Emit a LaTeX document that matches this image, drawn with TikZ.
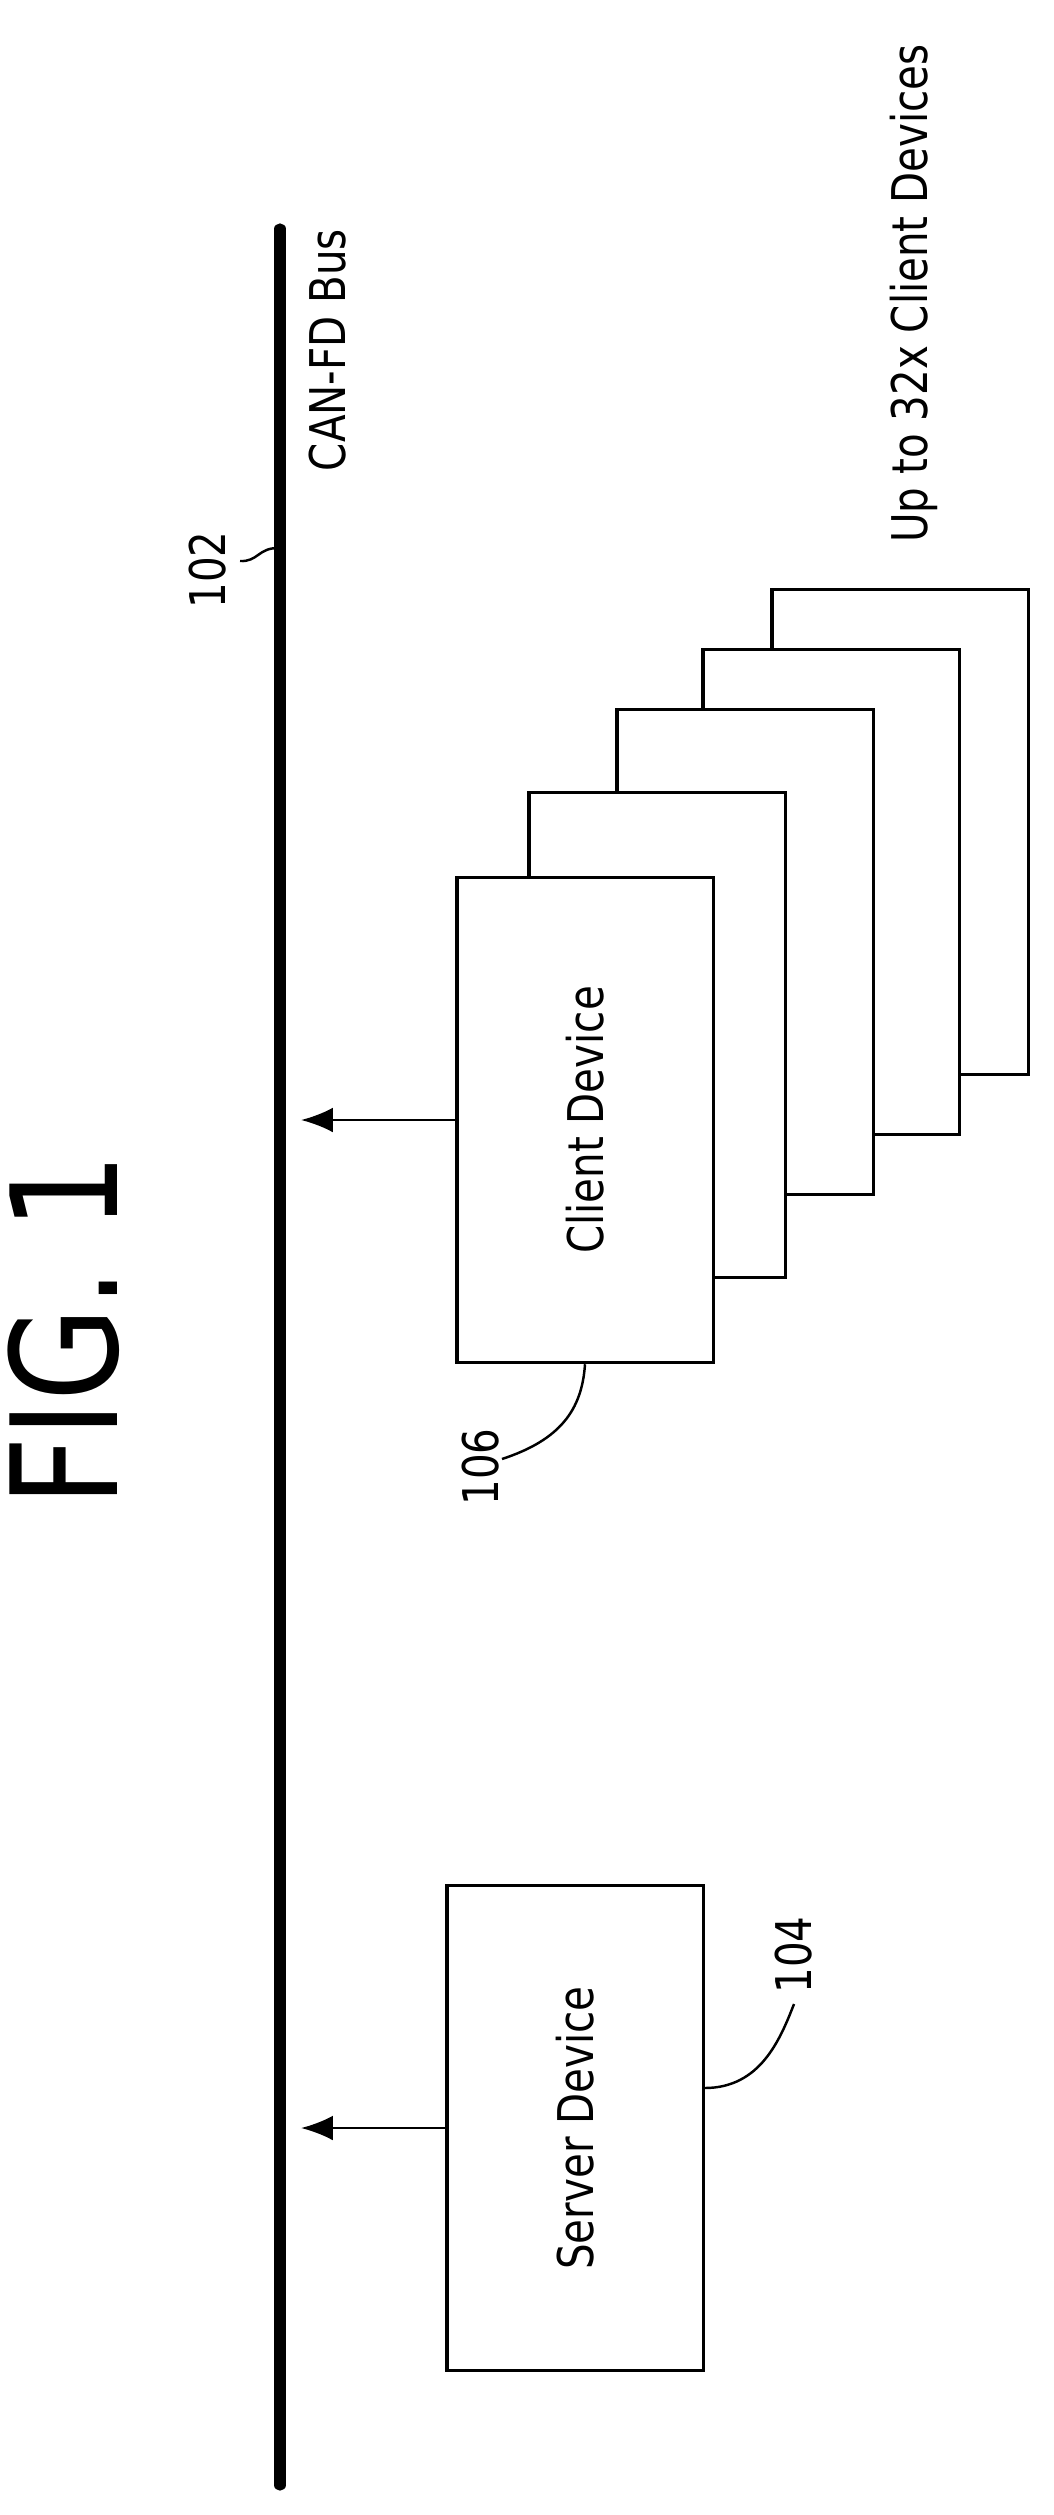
\documentclass[tikz,border=0pt]{standalone}
\usepackage{fontspec}
\setmainfont{DejaVu Sans}[FakeStretch=0.82]
\usetikzlibrary{positioning}
\tikzset{
  % device boxes, stacked copies drawn behind
  device/.style={draw,fill=white,line width=0.9pt,minimum width=2.56cm,minimum height=4.85cm},
  devtext/.style={rotate=90,font=\fontsize{14}{16}\selectfont},
  reflabel/.style={rotate=90,font=\fontsize{14}{16}\selectfont},
  lead/.style={line width=0.7pt},
  busline/.style={line width=3.2pt,line cap=round},
  feed/.style={-{Latex[length=9pt,width=7pt]},line width=0.7pt},
}
\usetikzlibrary{arrows.meta}
\begin{document}
\begin{tikzpicture}[x=0.01cm,y=-0.01cm]
  \useasboundingbox (0,0) rectangle (1053,2515);
  \node[rotate=90,font=\fontsize{42}{46}\selectfont] (fig) at (64,1330) {FIG. 1};
  % the bus
  \coordinate (bustop) at (280,229);
  \coordinate (busbot) at (280,2485);
  \draw[busline] (bustop) -- (busbot);
  \node[reflabel] (busname) at (328,350) {CAN-FD Bus};
  \node[reflabel] (n102) at (208,570) {102};
  \draw[lead] (240,561) .. controls (258,562) and (258,548) .. (278,548);
  % client stack
  \foreach \cx/\cy [count=\i] in {900/832,831/892,745/952,657/1035}
    \node[device] (back\i) at (\cx,\cy) {};
  \node[device] (client) at (585,1120) {};
  \node[devtext] at (client) {Client Device};
  \node[reflabel,anchor=west] (upto) at (914,555) {Up to 32x Client Devices};
  \coordinate (cbus) at (client.west -| bustop);
  \draw[feed] (client.west) -- ([xshift=6]cbus);
  \node[reflabel] (n106) at (481,1467) {106};
  \draw[lead] (502,1459) .. controls (560,1440) and (582,1410) .. (client.south);
  % server
  \node[device] (server) at (575,2128) {};
  \node[devtext] at (server) {Server Device};
  \coordinate (sbus) at (server.west -| bustop);
  \draw[feed] (server.west) -- ([xshift=6]sbus);
  \node[reflabel] (n104) at (794,1955) {104};
  \draw[lead] (server.east |- 0,2088) .. controls (760,2088) and (780,2040) .. (794,2004);
\end{tikzpicture}
\end{document}
